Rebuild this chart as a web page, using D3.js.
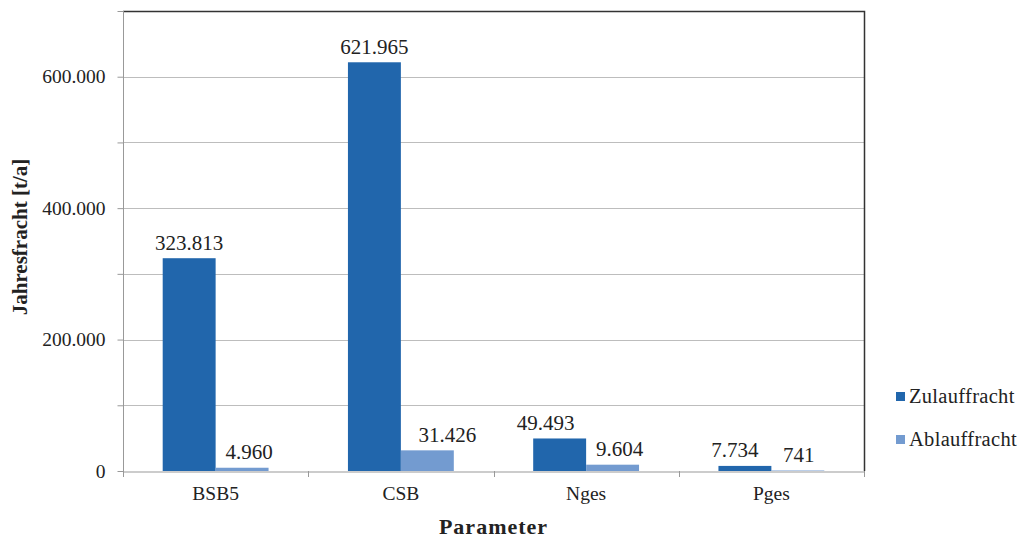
<!DOCTYPE html>
<html><head><meta charset="utf-8">
<script src="https://cdn.jsdelivr.net/npm/d3@7"></script>
<style>body{margin:0;background:#fff}svg{display:block}text{font-family:"Liberation Serif","Times New Roman",serif;fill:#222}</style>
</head><body><svg id="c" width="1020" height="539"></svg>
<script>
const categories = ["BSB5","CSB","Nges","Pges"];
const seriesNames = ["Zulauffracht","Ablauffracht"];
const zulauf = [323813, 621965, 49493, 7734];
const ablauf = [4960, 31426, 9604, 741];
const yTicks = [0, 200000, 400000, 600000];
const gridTicks = [100000, 200000, 300000, 400000, 500000, 600000, 700000];
const colors = ["#2166AC", "#739BD0"];

const svg = d3.select("#c");
const L = 123, R = 864, T = 11, B = 471;
const loc = d3.formatLocale({decimal: ",", thousands: ".", grouping: [3], currency: ["", "€"]});
const fmt = loc.format(",d");

// manual label nudges (px) as placed in the original, per series
const labelNudge = [[0, 0, -14, -10], [7, 20, 7, 1]];

const x = d3.scaleBand().domain(categories).range([L, R]).paddingInner(0).paddingOuter(0);
const y = d3.scaleLinear().domain([0, 700000]).range([B, T]);
const gapW = 1.5;
const barW = x.bandwidth() / (2 + gapW);
const xs = d3.scaleBand().domain(seriesNames).range([0, 2 * barW]);
const off = x.bandwidth() * gapW / (2 + gapW) / 2;

// grid
svg.append("g").selectAll("line").data(gridTicks).join("line")
  .attr("x1", L).attr("x2", R).attr("y1", d => Math.round(y(d)) + 0.5).attr("y2", d => Math.round(y(d)) + 0.5)
  .attr("stroke", "#bdbdbd").attr("stroke-width", 1);

// plot border top/right
svg.append("path").attr("d", `M${L},${T + 0.5}H${R + 0.5}V${B}`).attr("fill", "none").attr("stroke", "#333").attr("stroke-width", 1.5);

// bars
const data = [zulauf, ablauf];
const g = svg.append("g");
data.forEach((vals, si) => {
  g.selectAll(null).data(categories).join("rect")
    .attr("x", (c) => x(c) + off + xs(seriesNames[si]))
    .attr("y", (c, i) => y(vals[i]))
    .attr("width", barW)
    .attr("height", (c, i) => B - y(vals[i]))
    .attr("fill", colors[si]);
});
data.forEach((vals, si) => {
  g.selectAll(null).data(categories).join("text")
    .attr("x", (c, i) => x(c) + off + xs(seriesNames[si]) + barW / 2 + labelNudge[si][i])
    .attr("y", (c, i) => y(vals[i]) - 8.5)
    .attr("text-anchor", "middle").attr("font-size", 21)
    .text((c, i) => fmt(vals[i]));
});

// y axis
const yAxis = d3.axisLeft(y).tickValues(d3.range(0, 700001, 100000)).tickSize(6).tickFormat(d => yTicks.includes(d) ? fmt(d) : "");
const ya = svg.append("g").attr("transform", `translate(${L + 0.5},0)`).call(yAxis);
ya.select(".domain").attr("stroke", "#999").attr("d", `M0,${T}V${B + 6}`);
ya.selectAll(".tick line").attr("stroke", "#999");
ya.selectAll(".tick text").attr("font-size", 19.5).attr("font-family", "Liberation Serif").attr("fill", "#222").attr("x", -18);

// x axis
const xa = svg.append("g").attr("transform", `translate(0,${B + 0.5})`).call(d3.axisBottom(x).tickSize(0).tickPadding(15));
xa.select(".domain").attr("stroke", "#999");
xa.selectAll(".tick text").attr("font-size", 19.5).attr("font-family", "Liberation Serif").attr("fill", "#222");
svg.append("g").selectAll("line").data(categories.concat(["_end"])).join("line")
  .attr("x1", (d, i) => Math.round(L + i * x.bandwidth()) + 0.5).attr("x2", (d, i) => Math.round(L + i * x.bandwidth()) + 0.5)
  .attr("y1", B).attr("y2", B + 6).attr("stroke", "#999");

// titles
svg.append("text").attr("transform", `translate(27,237) rotate(-90)`)
  .attr("text-anchor", "middle").attr("font-size", 21).attr("font-weight", "bold").text("Jahresfracht [t/a]");
svg.append("text").attr("x", (L + R) / 2).attr("y", 534).attr("text-anchor", "middle")
  .attr("font-size", 22).attr("letter-spacing", 1).attr("font-weight", "bold").text("Parameter");

// legend
const lg = svg.append("g").selectAll("g").data(seriesNames).join("g")
  .attr("transform", (d, i) => `translate(896,${403 + i * 43})`);
lg.append("rect").attr("x", 0).attr("y", -11).attr("width", 9).attr("height", 9).attr("fill", (d, i) => colors[i]);
lg.append("text").attr("x", 13).attr("y", 0).attr("font-size", 20.5).attr("letter-spacing", 0.3).text(d => d);
</script></body></html>
